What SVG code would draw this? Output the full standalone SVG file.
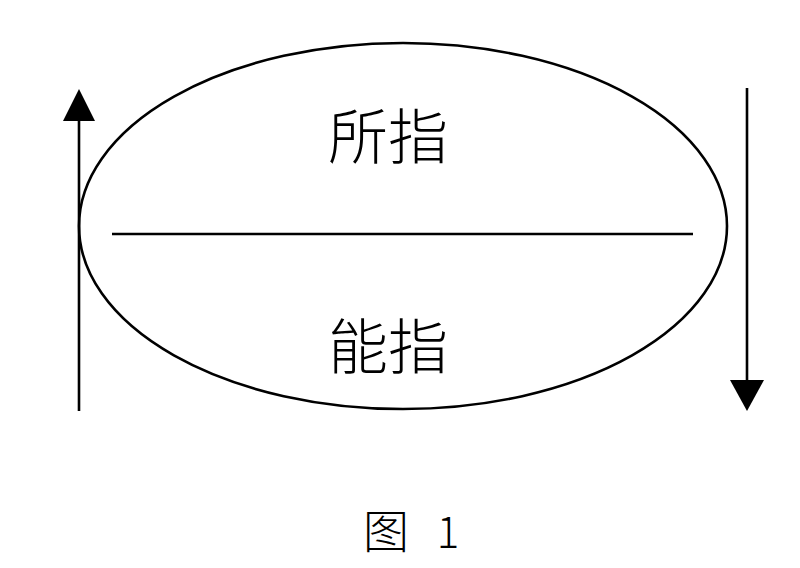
<svg xmlns="http://www.w3.org/2000/svg" width="800" height="568" viewBox="0 0 800 568">
<style>
.s{fill:none;stroke:#000;stroke-width:2.6}
.h{fill:#000;stroke:none}
.t{font-family:"Noto Sans CJK SC","Noto Sans CJK JP",sans-serif;fill:#000;text-anchor:middle;font-weight:300}
</style>
<rect width="800" height="568" fill="#fff"/>
<g id="ellipse">
<ellipse class="s" cx="403" cy="226" rx="324" ry="183"/>
<line class="s" x1="112" y1="234" x2="693" y2="234" stroke-width="3"/>
</g>
<g id="signified"><text class="t" x="388" y="159" font-size="60">所指</text></g>
<g id="signifier"><text class="t" x="388" y="369" font-size="60">能指</text></g>
<g id="connectors">
<line class="s" x1="79" y1="411" x2="79" y2="118"/>
<polygon class="h" points="79,89 63,121 95,121"/>
<line class="s" x1="747" y1="88" x2="747" y2="382"/>
<polygon class="h" points="730,380 764,380 747,411"/>
</g>
<g id="caption"><text class="t" font-size="46" y="548"><tspan x="386">图</tspan><tspan x="448" font-size="42">1</tspan></text></g>
</svg>
